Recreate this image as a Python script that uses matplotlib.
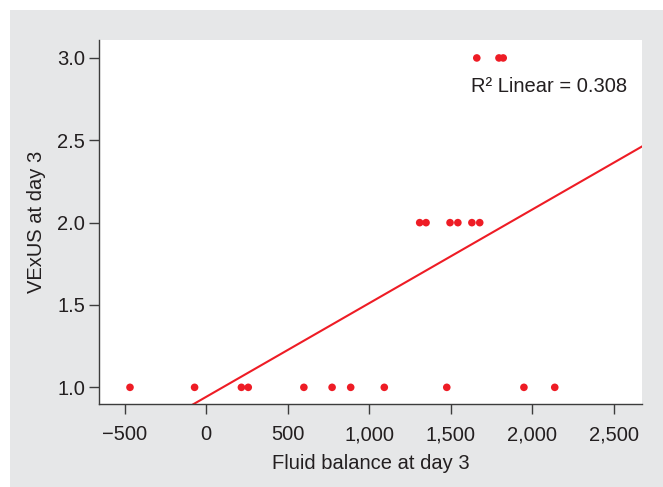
import numpy as np
import matplotlib
matplotlib.use("Agg")
import matplotlib.pyplot as plt
from matplotlib.patches import Rectangle
from matplotlib.ticker import FixedLocator, FuncFormatter

plt.rcParams['font.family'] = ['Liberation Sans', 'DejaVu Sans']

# Fluid balance (mL) at day 3 versus VExUS grade at day 3
fluid_vexus1 = [-467, -71, 216, 258, 599, 772, 886, 1092, 1475, 1948, 2137]
fluid_vexus2 = [1309, 1348, 1495, 1543, 1629, 1677]
fluid_vexus3 = [1659, 1795, 1821]
vexus_levels = [1.0, 2.0, 3.0]
r2_text = "R\u00b2 Linear = 0.308"

x_ticks = [-500, 0, 500, 1000, 1500, 2000, 2500]
y_ticks = [1.0, 1.5, 2.0, 2.5, 3.0]

x = np.array(fluid_vexus1 + fluid_vexus2 + fluid_vexus3, dtype=float)
y = np.array([vexus_levels[0]] * len(fluid_vexus1)
             + [vexus_levels[1]] * len(fluid_vexus2)
             + [vexus_levels[2]] * len(fluid_vexus3))

red = "#ee1c25"
ink = "#231f20"
spine_col = "#3c3c3c"
bg = "#e6e7e8"

fig = plt.figure(figsize=(6.63, 4.87), dpi=100)
fig.patch.set_facecolor("white")
# grey panel behind the chart
fig.add_artist(Rectangle((10 / 663, 0), 1 - 10 / 663, 1 - 10 / 487,
                         transform=fig.transFigure, facecolor=bg,
                         edgecolor="none", zorder=-10))

ax = fig.add_axes([99 / 663, 82.7 / 487, 542.7 / 663, 364.8 / 487])
ax.set_facecolor("white")
ax.set_xlim(-657, 2670)
ax.set_ylim(0.897, 3.112)

for side in ("top", "right"):
    ax.spines[side].set_visible(False)
for side in ("left", "bottom"):
    ax.spines[side].set_color(spine_col)
    ax.spines[side].set_linewidth(1.0)

ax.scatter(x, y, s=30, color=red, edgecolors="none", zorder=3, clip_on=False)

# least-squares fit line
slope, intercept = np.polyfit(x, y, 1)
xl = np.array([-700, 2700])
ax.plot(xl, intercept + slope * xl, color=red, lw=1.5, zorder=2)

ax.text(2580, 2.824, r2_text, ha="right", va="center", fontsize=14.5, color=ink)

ax.xaxis.set_major_locator(FixedLocator(x_ticks))
ax.yaxis.set_major_locator(FixedLocator(y_ticks))
ax.xaxis.set_major_formatter(FuncFormatter(
    lambda v, p: ("\u2212" if v < 0 else "") + f"{abs(int(v)):,}"))
ax.yaxis.set_major_formatter(FuncFormatter(lambda v, p: f"{v:.1f}"))
ax.tick_params(axis="both", direction="out", length=7, width=1.0,
               color=spine_col, labelsize=14.5, labelcolor=ink)
ax.tick_params(axis="x", pad=8)
ax.tick_params(axis="y", pad=3)

ax.set_xlabel("Fluid balance at day 3", fontsize=14.5, color=ink, labelpad=7)
ax.set_ylabel("VExUS at day 3", fontsize=14.5, color=ink, labelpad=8)

fig.savefig("out.png", dpi=100, facecolor=fig.get_facecolor())
